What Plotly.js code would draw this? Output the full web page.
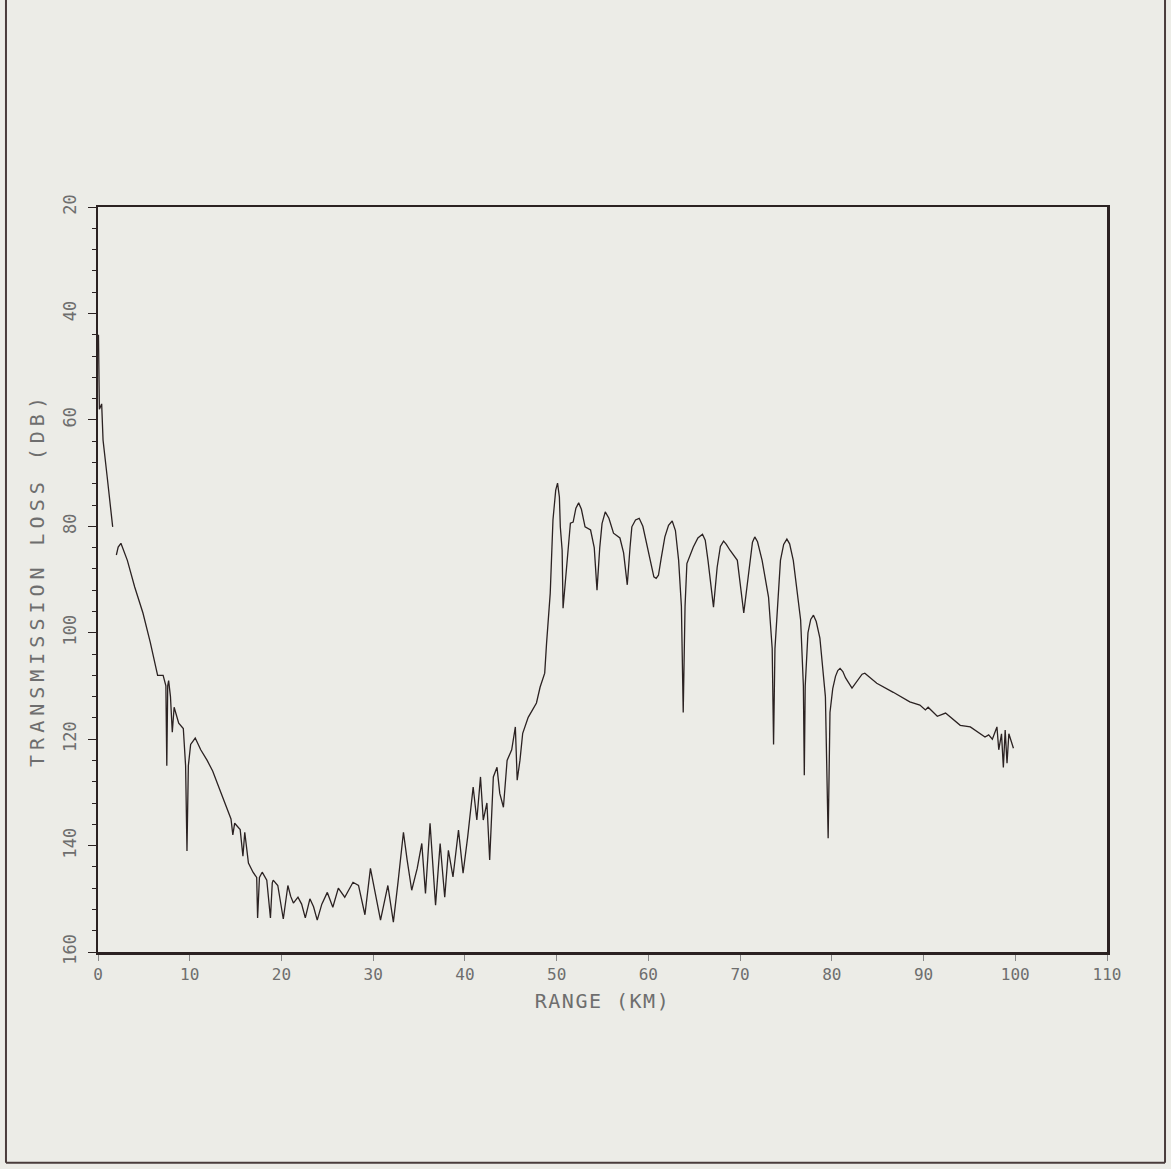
<!DOCTYPE html>
<html>
<head>
<meta charset="utf-8">
<script src="https://cdn.plot.ly/plotly-3.0.1.min.js"></script>
<style>
  html, body { margin: 0; padding: 0; background: #ecece7; }
  #chart { width: 1171px; height: 1169px; }
  .ytitle { letter-spacing: 5px; }
  .xtitle { letter-spacing: 1.5px; }
</style>
</head>
<body>
<div id="chart"></div>
<script>
// Range (km)
const rangeKm = [
  0.05, 0.15, 0.4, 0.55, 1.0, 1.6, null,
  2.0, 2.2, 2.5, 2.9, 3.2, 4.0, 4.9, 5.7, 6.5, 7.1, 7.4, 7.5, 7.6, 7.7, 7.9,
  8.1, 8.3, 8.8, 9.3, 9.55, 9.7, 9.85, 10.1, 10.6, 11.2, 11.9, 12.5, 13.3, 14.0,
  14.5, 14.7, 14.9, 15.5, 15.8, 16.0, 16.4, 16.9, 17.3, 17.4, 17.6, 17.9, 18.4,
  18.8, 19.0, 19.1, 19.6, 20.2, 20.7, 21.0, 21.3, 21.8, 22.2, 22.6, 23.1, 23.5,
  23.9, 24.4, 25.0, 25.6, 26.2, 26.9, 27.8, 28.4, 29.1, 29.7, 30.2, 30.8, 31.6,
  32.2, 32.7, 33.3, 33.7, 34.2, 34.8, 35.3, 35.7, 36.2, 36.8, 37.3, 37.8, 38.2,
  38.7, 39.3, 39.8, 40.3, 40.9, 41.3, 41.7, 42.0, 42.4, 42.7, 43.1, 43.5, 43.8,
  44.2, 44.6, 45.1, 45.5, 45.7, 46.0, 46.3, 46.9, 47.4, 47.8, 48.2, 48.7, 48.9,
  49.3, 49.6, 49.9, 50.1, 50.3, 50.4, 50.6, 50.7, 50.9, 51.1, 51.5, 51.8, 52.1, 52.4, 52.7, 53.1, 53.7,
  54.1, 54.4, 54.7, 54.95, 55.3, 55.7, 56.2, 56.9, 57.3, 57.7, 58.0, 58.2, 58.6, 59.0, 59.4, 59.9, 60.3, 60.6,
  60.85, 61.1, 61.4, 61.8, 62.2, 62.6, 62.95, 63.3, 63.6, 63.8, 64.0, 64.2, 64.9, 65.4, 65.9, 66.2, 66.5, 67.1, 67.5,
  67.85, 68.2, 68.5, 68.9, 69.7, 70.4, 71.1, 71.35, 71.6, 71.9, 72.4, 73.1, 73.5, 73.65, 73.8, 74.4, 74.75, 75.1, 75.4,
  75.8, 76.6, 76.9, 77.0, 77.1, 77.4, 77.7, 78.0, 78.3, 78.7, 79.3, 79.6, 79.8, 80.1, 80.4,
  80.65, 80.9, 81.2, 81.5, 82.2, 82.9, 83.3, 83.6, 83.9, 84.9, 86.7, 88.5, 89.6, 90.2, 90.5, 91.5, 92.4,
  94.0, 95.1, 96.7, 97.1, 97.5, 98.0, 98.2, 98.5, 98.7, 98.9, 99.1, 99.3, 99.5, 99.8
];
// Transmission loss (dB)
const lossDb = [
  44, 58, 57, 63.8, 70.7, 80.1, null,
  85.4, 83.9, 83.2, 85, 86.4, 91.4, 96.3, 101.8, 108, 108, 110, 125, 110, 109, 112,
  118.7, 114, 117, 118, 125, 141, 125, 121, 119.8, 122, 124, 126, 129.6, 132.8,
  135, 138, 135.8, 137, 142, 137.5, 143.3, 145, 146, 153.6, 146, 145, 146.5,
  153.6, 147, 146.5, 147.5, 153.8, 147.5, 149.5, 150.8, 149.7, 151, 153.6, 150, 151.5,
  154, 151, 148.8, 151.6, 148, 149.7, 146.9, 147.5, 153, 144.3, 149, 154, 147.5,
  154.4, 147, 137.5, 142.7, 148.4, 144.3, 139.6, 149, 135.8, 151.2, 139.6, 149.7, 140.9,
  145.9, 137.1, 145.2, 138.4, 129, 135.2, 127.1, 135.2, 132, 142.7, 127.1, 125.3, 130.2,
  132.8, 124, 122, 117.7, 127.7, 124, 118.9, 115.9, 114.5, 113.2, 110.2, 107.6, 102,
  92.6, 78.8, 73.2, 71.9, 74.5, 80.1, 84.5, 95.4, 91.4, 88.8, 79.4, 79.2, 76.6, 75.6, 76.8, 80.1, 80.7,
  84, 92, 84, 79.5, 77.3, 78.5, 81.3, 82.2, 85, 91, 84, 80.1, 78.8, 78.5, 80, 83.9, 87.5, 89.5,
  89.8, 89.2, 86, 82, 79.8, 79, 80.8, 86.4, 95, 115, 95, 87, 83.9, 82.2, 81.5, 82.6, 86.4, 95.2, 87.7,
  83.8, 82.8, 83.4, 84.5, 86.4, 96.3, 86.4, 83, 82, 82.9, 86.4, 93.3, 103, 121, 103, 86.4, 83.4, 82.4, 83.3,
  86.4, 97.6, 110, 126.8, 110, 100, 97.5, 96.7, 97.9, 101, 112, 138.6, 115, 110.5, 108.2,
  107.1, 106.7, 107.3, 108.5, 110.4, 108.6, 107.8, 107.6, 108, 109.5, 111.2, 113, 113.6, 114.5, 114, 115.7, 115.1,
  117.4, 117.7, 119.6, 119.2, 120, 117.7, 122, 119, 125.3, 118.3, 124.5, 119, 120.2, 121.7
];
const xTicks = [0, 10, 20, 30, 40, 50, 60, 70, 80, 90, 100, 110];
const yTicks = [20, 40, 60, 80, 100, 120, 140, 160];

const ink = '#2b2222';
const labelGrey = '#6e6e6e';
const tickFont = { family: 'DejaVu Sans Mono, monospace', size: 16, color: labelGrey };

const trace = {
  x: rangeKm,
  y: lossDb,
  type: 'scatter',
  mode: 'lines',
  line: { color: ink, width: 1.3 },
  connectgaps: false,
  hoverinfo: 'skip'
};

const layout = {
  width: 1171,
  height: 1169,
  paper_bgcolor: '#ecece7',
  plot_bgcolor: '#ecece7',
  showlegend: false,
  margin: { l: 98, r: 64, t: 207, b: 217 },
  xaxis: {
    range: [0, 110],
    tickvals: xTicks,
    ticktext: xTicks.map(String),
    showgrid: false,
    zeroline: false,
    showline: true,
    linecolor: ink,
    linewidth: 2.5,
    mirror: true,
    ticks: 'outside',
    ticklen: 6,
    tickwidth: 1,
    tickcolor: '#888',
    tickfont: tickFont,
    automargin: false,
    title: { text: 'RANGE (KM)', font: { family: 'DejaVu Sans Mono, monospace', size: 20, color: labelGrey }, standoff: 12 }
  },
  yaxis: {
    range: [160, 20],
    tickvals: yTicks,
    ticktext: yTicks.map(String),
    tickangle: -90,
    showgrid: false,
    zeroline: false,
    showline: true,
    linecolor: ink,
    linewidth: 2.5,
    mirror: true,
    ticks: 'outside',
    ticklen: 8,
    tickwidth: 1,
    tickcolor: ink,
    ticklabelstandoff: 5,
    minor: { dtick: 4, ticks: 'outside', ticklen: 4, tickcolor: ink, tickwidth: 1 },
    tickfont: { family: 'DejaVu Sans Mono, monospace', size: 17, color: labelGrey },
    automargin: false,
    title: { text: 'TRANSMISSION LOSS (DB)', font: { family: 'DejaVu Sans Mono, monospace', size: 20, color: labelGrey }, standoff: 10 }
  },
  shapes: [
    { type: 'line', xref: 'paper', yref: 'paper', x0: -0.0912, x1: -0.0912, y0: 1.28, y1: -0.283, line: { color: '#4a3c3c', width: 2 } },
    { type: 'line', xref: 'paper', yref: 'paper', x0: 1.0575, x1: 1.0575, y0: 1.28, y1: -0.283, line: { color: '#4a3c3c', width: 2 } },
    { type: 'line', xref: 'paper', yref: 'paper', x0: -0.0912, x1: 1.0575, y0: -0.283, y1: -0.283, line: { color: '#4a3c3c', width: 2 } }
  ]
};

Plotly.newPlot('chart', [trace], layout, { staticPlot: true, displayModeBar: false });
</script>
</body>
</html>
